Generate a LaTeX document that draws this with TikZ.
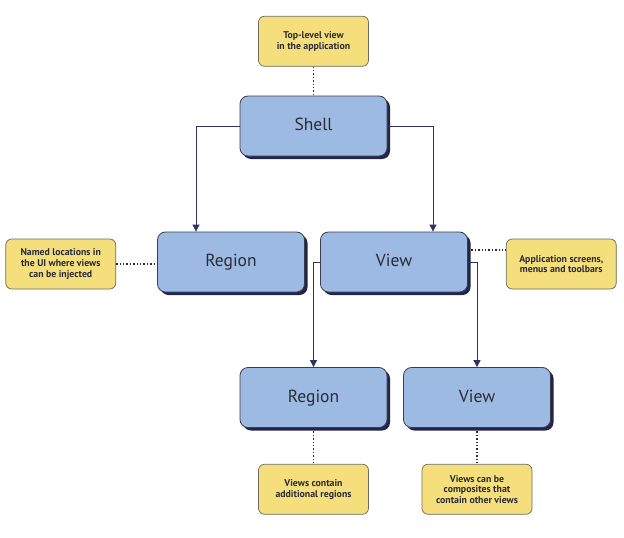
\documentclass[tikz,border=0pt]{standalone}
\usepackage{fontspec}
\setmainfont{PT Sans}
\usetikzlibrary{arrows.meta, positioning, calc, shadows}
\definecolor{boxfill}{HTML}{9DBAE2}
\definecolor{boxline}{HTML}{3B3D4E}
\definecolor{shade}{HTML}{22244A}
\definecolor{notefill}{HTML}{F4DF7C}
\definecolor{noteline}{HTML}{6E6A5C}
\definecolor{wire}{HTML}{2F3264}
\definecolor{ink}{HTML}{2A2B36}

\begin{document}
\begin{tikzpicture}[
  x=1pt, y=-1pt,
  box/.style={draw=boxline, fill=boxfill, rounded corners=8pt, line width=0.8pt,
              minimum width=147pt, minimum height=60pt, text=ink,
              text height=13pt, text depth=4pt,
              font=\fontsize{17.5}{20}\selectfont,
              drop shadow={shadow xshift=3pt, shadow yshift=-3pt, fill=shade, opacity=1}},
  note/.style={draw=noteline, fill=notefill, rounded corners=6pt, line width=0.7pt,
               minimum width=110pt, minimum height=50pt, align=center, text=ink,
               inner sep=2pt, font=\fontsize{9.8}{10.6}\selectfont\bfseries},
  ar/.style={-{Triangle[length=7pt, width=7pt]}, draw=wire, line width=0.8pt},
  dots/.style={draw=ink, dotted, line width=1.4pt}
]
\useasboundingbox (0,0) rectangle (624,538);

\node[box] (shell) at (313.5,126) {Shell};
\node[box] (region) at (231,262) {Region};
\node[box] (view) at (394,262) {View};
\node[box] (subregion) at (313.5,397.5) {Region};
\node[box] (subview) at (477,397.5) {View};

\node[note, above=29pt of shell] (top) {Top-level view\\in the application};
\node[note, left=41pt of region, yshift=-2pt] (named) {Named locations in\\the UI where views\\can be injected};
\node[note, right=38pt of view, yshift=-2pt] (screens) {Application screens,\\menus and toolbars};
\node[note, below=36pt of subregion] (contain) {Views contain\\additional regions};
\node[note, below=36pt of subview] (composite) {Views can be\\composites that\\contain other views};

\draw[ar] (shell.west) -| ($(region.north)+(-35,0)$);
\draw[ar] (shell.east) -| ($(view.north)+(39,0)$);
\draw[ar] (view.west) -| (subregion.north);
\draw[ar] (view.east) -| (subview.north);

\draw[dots] (top) -- (shell);
\draw[dots] (named) -- (named -| region.west);
\coordinate (hook) at ($(view.east)+(0,-12)$);
\draw[dots] (hook) -- (hook -| screens.west);
\draw[dots] (subregion) -- (contain);
\draw[dots] (subview) -- (composite);
\end{tikzpicture}
\end{document}
